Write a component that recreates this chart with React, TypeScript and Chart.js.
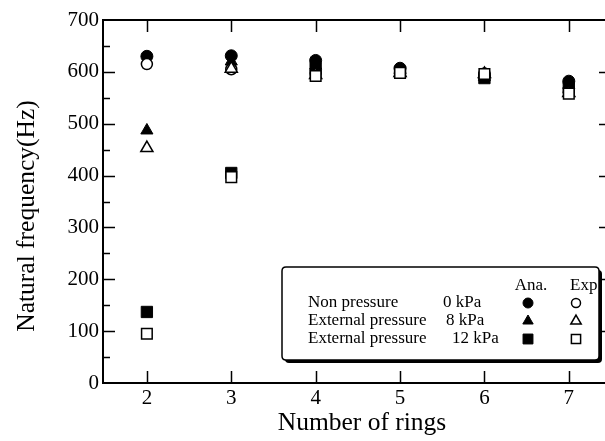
import React, { useEffect, useRef } from 'react';
import { Chart, registerables } from 'chart.js';
import { drawPoint } from 'chart.js/helpers';

Chart.register(...registerables);

// ---- data ----
const rings = [2, 3, 4, 5, 6, 7];
const ana0kPa = [630, 631, 622, 607, 592, 582];
const ana8kPa = [487, 620, 612, 603, 590, 575];
const ana12kPa = [137, 405, 607, 600, 588, 570];
const exp0kPa = [615, 605, 595, 599, 597, 560];
const exp8kPa = [453, 606, 594, 598, 596, 559];
const exp12kPa = [95, 397, 592, 598, 596, 558];
const xTickValues = [2, 3, 4, 5, 6, 7];
const yMajorTicks = [100, 200, 300, 400, 500, 600];
const yMinorTicks = [50, 150, 250, 350, 450, 550, 650];
const legendRows = [
  { label: 'Non pressure', unit: '0 kPa' },
  { label: 'External pressure', unit: '8 kPa' },
  { label: 'External pressure', unit: '12 kPa' },
];
const xTitle = 'Number of rings';
const yTitle = 'Natural frequency(Hz)';

const FONT = '"Liberation Serif", "Times New Roman", serif';

const toPts = (vals: number[]) => rings.map((r, i) => ({ x: r, y: vals[i] }));

const frameTicksPlugin = {
  id: 'frameTicks',
  afterDraw(chart: any) {
    const { ctx, chartArea, scales } = chart;
    const { left, right, top, bottom } = chartArea;
    const xs = scales.x;
    const ys = scales.y;
    ctx.save();
    ctx.strokeStyle = '#000';
    // top and right frame
    ctx.lineWidth = 2;
    ctx.beginPath();
    ctx.moveTo(left - 1, top);
    ctx.lineTo(right, top);
    ctx.lineTo(right, bottom + 1);
    ctx.stroke();
    // inward ticks
    ctx.lineWidth = 1.5;
    ctx.beginPath();
    xTickValues.forEach((v) => {
      const px = Math.round(xs.getPixelForValue(v)) + 0.5;
      ctx.moveTo(px, bottom);
      ctx.lineTo(px, bottom - 12);
      ctx.moveTo(px, top);
      ctx.lineTo(px, top + 12);
    });
    yMajorTicks.forEach((v) => {
      const py = Math.round(ys.getPixelForValue(v)) + 0.5;
      ctx.moveTo(left, py);
      ctx.lineTo(left + 12, py);
      ctx.moveTo(right, py);
      ctx.lineTo(right - 12, py);
    });
    yMinorTicks.forEach((v) => {
      const py = Math.round(ys.getPixelForValue(v)) + 0.5;
      ctx.moveTo(left, py);
      ctx.lineTo(left + 7, py);
    });
    ctx.stroke();

    // axis titles
    ctx.fillStyle = '#000';
    ctx.font = `25.5px ${FONT}`;
    ctx.textAlign = 'center';
    ctx.textBaseline = 'alphabetic';
    ctx.fillText(xTitle, 362, 430);
    ctx.save();
    ctx.translate(34, 216);
    ctx.rotate(-Math.PI / 2);
    ctx.fillText(yTitle, 0, 0);
    ctx.restore();

    // legend box
    const bx = 282, by = 267, bw = 317, bh = 93, r = 4;
    const roundRect = (x: number, y: number, w: number, h: number) => {
      ctx.beginPath();
      ctx.moveTo(x + r, y);
      ctx.lineTo(x + w - r, y);
      ctx.quadraticCurveTo(x + w, y, x + w, y + r);
      ctx.lineTo(x + w, y + h - r);
      ctx.quadraticCurveTo(x + w, y + h, x + w - r, y + h);
      ctx.lineTo(x + r, y + h);
      ctx.quadraticCurveTo(x, y + h, x, y + h - r);
      ctx.lineTo(x, y + r);
      ctx.quadraticCurveTo(x, y, x + r, y);
      ctx.closePath();
    };
    // shadow
    ctx.fillStyle = '#000';
    roundRect(bx + 3, by + 3, bw, bh);
    ctx.fill();
    ctx.fillStyle = '#fff';
    roundRect(bx, by, bw, bh);
    ctx.fill();
    ctx.lineWidth = 1.5;
    ctx.strokeStyle = '#000';
    ctx.stroke();

    ctx.fillStyle = '#000';
    ctx.font = `17px ${FONT}`;
    ctx.textBaseline = 'middle';
    ctx.textAlign = 'center';
    ctx.fillText('Ana.', 531, 286);
    ctx.textAlign = 'left';
    ctx.fillText('Exp', 570, 286);
    const rowY = [303, 321, 339];
    const unitX = [443, 446, 452];
    const ds = chart.data.datasets;
    legendRows.forEach((row, i) => {
      ctx.fillStyle = '#000';
      ctx.textAlign = 'left';
      ctx.fillText(row.label, 308, rowY[i]);
      ctx.fillText(row.unit, unitX[i], rowY[i]);
      const filled = ds[i];
      const open = ds[i + 3];
      [
        { d: filled, x: 528 },
        { d: open, x: 576 },
      ].forEach(({ d, x }) => {
        ctx.fillStyle = d.backgroundColor;
        ctx.strokeStyle = d.borderColor;
        ctx.lineWidth = d.borderWidth;
        drawPoint(ctx, { pointStyle: d.pointStyle, radius: d.pointRadius - 1, borderWidth: d.borderWidth, rotation: 0 } as any, x, rowY[i]);
      });
    });
    ctx.restore();
  },
};

export default function App() {
  const ref = useRef<HTMLCanvasElement | null>(null);
  useEffect(() => {
    if (!ref.current) return;
    const filled = (label: string, vals: number[], style: string, radius: number) => ({
      label,
      data: toPts(vals),
      pointStyle: style,
      pointRadius: radius,
      backgroundColor: '#000',
      borderColor: '#000',
      borderWidth: 1,
      showLine: false,
      order: 1,
    });
    const open = (label: string, vals: number[], style: string, radius: number, order: number) => ({
      label,
      data: toPts(vals),
      pointStyle: style,
      pointRadius: radius,
      backgroundColor: '#fff',
      borderColor: '#000',
      borderWidth: 1.5,
      showLine: false,
      order,
    });
    const chart = new Chart(ref.current, {
      type: 'scatter',
      data: {
        datasets: [
          filled('Ana. 0 kPa', ana0kPa, 'circle', 6),
          filled('Ana. 8 kPa', ana8kPa, 'triangle', 7),
          filled('Ana. 12 kPa', ana12kPa, 'rect', 8),
          open('Exp. 0 kPa', exp0kPa, 'circle', 5.5, 0),
          open('Exp. 8 kPa', exp8kPa, 'triangle', 7, -1),
          open('Exp. 12 kPa', exp12kPa, 'rect', 7.5, -2),
        ] as any,
      },
      options: {
        animation: false,
        responsive: false,
        devicePixelRatio: 1,
        layout: { padding: { left: 0, top: 20, right: 8.5, bottom: 0 } },
        plugins: { legend: { display: false }, tooltip: { enabled: false } },
        scales: {
          x: {
            type: 'linear',
            min: 1.48,
            max: 7.5,
            grid: { display: false, drawTicks: false },
            border: { display: true, color: '#000', width: 2 },
            ticks: {
              padding: 3,
              color: '#000',
              font: { family: FONT, size: 21 },
            },
            afterBuildTicks: (s: any) => {
              s.ticks = xTickValues.map((v) => ({ value: v }));
            },
            afterFit: (s: any) => {
              s.height = 58;
            },
          },
          y: {
            type: 'linear',
            min: 0,
            max: 700,
            grid: { display: false, drawTicks: false },
            border: { display: true, color: '#000', width: 2 },
            ticks: {
              stepSize: 100,
              padding: 4,
              color: '#000',
              font: { family: FONT, size: 21 },
            },
            afterFit: (s: any) => {
              s.width = 103;
            },
          },
        },
      },
      plugins: [frameTicksPlugin],
    });
    return () => chart.destroy();
  }, []);
  return (
    <div style={{ position: 'fixed', left: 0, top: 0, width: 620, height: 441, background: '#fff' }}>
      <canvas ref={ref} width={620} height={441} style={{ width: 620, height: 441, display: 'block' }} />
    </div>
  );
}
